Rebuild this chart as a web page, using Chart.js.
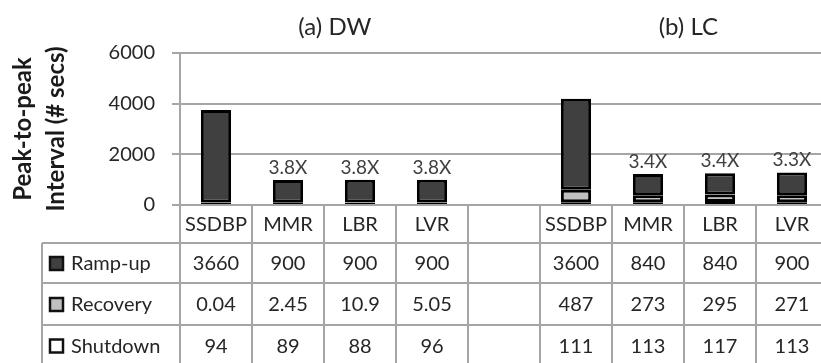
<!DOCTYPE html>
<html>
<head>
<meta charset="utf-8">
<script src="https://cdn.jsdelivr.net/npm/chart.js@4/dist/chart.umd.min.js"></script>
<style>
  html, body { margin: 0; padding: 0; background: #fff; overflow: hidden; }
  #wrap { width: 830px; height: 363px; }
</style>
</head>
<body>
<div id="wrap"><canvas id="peakChart"></canvas></div>
<script>
// chart data
const categories = ["SSDBP", "MMR", "LBR", "LVR", "", "SSDBP", "MMR", "LBR", "LVR"];
const rampUp = [3660, 900, 900, 900, null, 3600, 840, 840, 900];
const recovery = [0.04, 2.45, 10.9, 5.05, null, 487, 273, 295, 271];
const shutdown = [94, 89, 88, 96, null, 111, 113, 117, 113];
const speedups = [null, "3.8X", "3.8X", "3.8X", null, null, "3.4X", "3.4X", "3.3X"];
const panelTitles = ["(a) DW", "(b) LC"];
const yTickValues = [0, 2000, 4000, 6000];

const FONT = "Lato, 'Open Sans', sans-serif";
const GRID = "#a6a6a6";
const TEXT = "#262626";
const DARK = "#404040";
const LIGHT = "#c0c0c0";

// rows of the data table, top to bottom
const tableRows = [
  { name: "Ramp-up", values: rampUp, color: DARK },
  { name: "Recovery", values: recovery, color: LIGHT },
  { name: "Shutdown", values: shutdown, color: "#ffffff" }
];

const tablePlugin = {
  id: "dataTable",
  afterDraw(chart) {
    const { ctx, chartArea, scales: { x } } = chart;
    const colW = x.getPixelForValue(1) - x.getPixelForValue(0);
    const left = chartArea.left;
    const top = chartArea.bottom;
    const lines = [top + 38, top + 78, top + 120, top + 161];
    const legendLeft = 42;
    const right = left + colW * categories.length;

    ctx.save();
    ctx.strokeStyle = GRID;
    ctx.lineWidth = 2;
    ctx.beginPath();
    lines.forEach(y => { ctx.moveTo(legendLeft, y); ctx.lineTo(right, y); });
    for (let k = 0; k <= categories.length; k++) {
      const xx = left + k * colW;
      ctx.moveTo(xx, top); ctx.lineTo(xx, lines[3]);
    }
    ctx.moveTo(legendLeft, lines[0]); ctx.lineTo(legendLeft, lines[3]);
    ctx.stroke();

    ctx.fillStyle = TEXT;
    ctx.font = "20px " + FONT;
    ctx.textAlign = "center";
    ctx.textBaseline = "middle";
    categories.forEach((c, i) => ctx.fillText(c, x.getPixelForValue(i), top + 20));

    tableRows.forEach((row, r) => {
      const cy = (lines[r] + lines[r + 1]) / 2 + 1;
      ctx.fillStyle = row.color;
      ctx.fillRect(50, cy - 7, 13, 13);
      ctx.strokeStyle = "#111";
      ctx.lineWidth = 2.5;
      ctx.strokeRect(50, cy - 7, 13, 13);
      ctx.fillStyle = TEXT;
      ctx.textAlign = "left";
      ctx.fillText(row.name, 71, cy);
      ctx.textAlign = "center";
      row.values.forEach((v, i) => {
        if (v !== null) ctx.fillText(String(v), x.getPixelForValue(i), cy);
      });
    });

    // speed-up labels above the stacks
    const topMeta = chart.getDatasetMeta(chart.data.datasets.length - 1);
    ctx.font = "19px " + FONT;
    ctx.fillStyle = "#404040";
    ctx.textBaseline = "alphabetic";
    speedups.forEach((s, i) => {
      if (!s) return;
      const el = topMeta.data[i];
      ctx.fillText(s, el.x, el.y - 6);
    });

    // panel titles
    ctx.font = "24px " + FONT;
    ctx.fillStyle = TEXT;
    ctx.textBaseline = "middle";
    const titleAt = [1.65, 6.56];
    panelTitles.forEach((t, i) => ctx.fillText(t, x.getPixelForValue(titleAt[i]), 27));
    ctx.restore();
  }
};

const barStyle = {
  borderColor: "#000",
  borderWidth: 3,
  borderSkipped: false,
  barPercentage: 0.42,
  categoryPercentage: 1.0
};

new Chart(document.getElementById("peakChart"), {
  type: "bar",
  data: {
    labels: categories,
    datasets: [
      { label: "Shutdown", data: shutdown, backgroundColor: "#ffffff", ...barStyle },
      { label: "Recovery", data: recovery, backgroundColor: LIGHT, ...barStyle },
      { label: "Ramp-up", data: rampUp, backgroundColor: DARK, ...barStyle }
    ]
  },
  options: {
    responsive: true,
    maintainAspectRatio: false,
    animation: false,
    layout: { padding: { top: 53, bottom: 158, left: 0, right: 2 } },
    plugins: {
      legend: { display: false },
      tooltip: { enabled: false }
    },
    scales: {
      x: { stacked: true, display: false },
      y: {
        stacked: true,
        min: 0,
        max: 6000,
        afterFit(scale) { scale.width = 180; },
        afterBuildTicks(scale) { scale.ticks = yTickValues.map(v => ({ value: v })); },
        ticks: {
          padding: 17,
          color: TEXT,
          font: { family: FONT, size: 20 },
          callback: v => String(v)
        },
        grid: { color: GRID, lineWidth: 2, tickLength: 8 },
        border: { color: GRID, width: 2 },
        title: {
          display: true,
          text: ["Peak-to-peak", "Interval (# secs)"],
          color: "#1a1a1a",
          font: { family: FONT, size: 24, weight: "bold", lineHeight: 1.375 },
          padding: { top: 7, bottom: 0 }
        }
      }
    }
  },
  plugins: [tablePlugin]
});
</script>
</body>
</html>
